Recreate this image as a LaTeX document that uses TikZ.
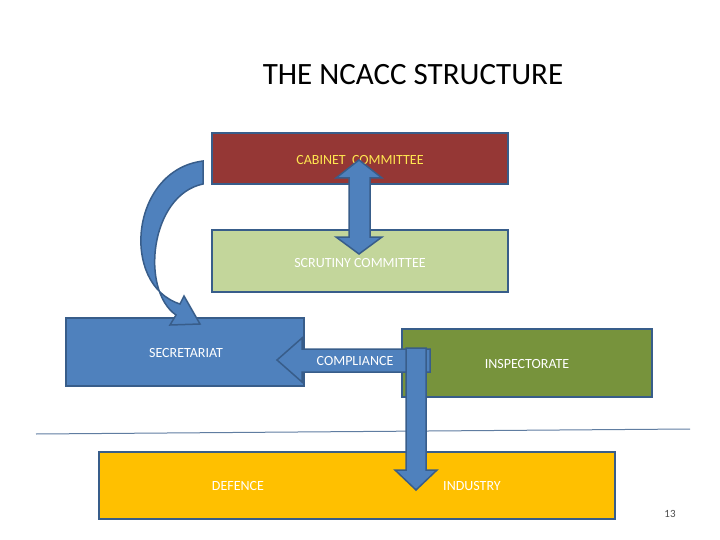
\documentclass[tikz,border=0pt]{standalone}
\usepackage{fontspec}
\setmainfont{Carlito}
\begin{document}
\begin{tikzpicture}[x=1pt,y=-1pt,
 box/.style={draw=bd,line width=2pt},
 arr/.style={fill=ab,draw=bd,line width=1.5pt,line join=miter},
 lbl/.style={font=\fontsize{14}{16}\selectfont,text=white}]
\definecolor{bd}{HTML}{385D8A}
\definecolor{ab}{HTML}{4F81BD}
\useasboundingbox (0,0) rectangle (720,540);
\node[font=\fontsize{31}{36}\selectfont] (title) at (413,75) {THE NCACC STRUCTURE};
\draw[box,fill={rgb,255:red,149;green,55;blue,53}] (212,133) rectangle (508,184);
\node[lbl,text={rgb,255:red,255;green,230;blue,80}] (cab) at (360,160) {CABINET\ \ COMMITTEE};
\draw[box,fill={rgb,255:red,195;green,214;blue,155}] (212,230) rectangle (508,292);
\node[lbl] (scr) at (360,263) {SCRUTINY COMMITTEE};
\draw[box,fill=ab] (66,318) rectangle (304,386);
\node[lbl] (sec) at (186,353) {SECRETARIAT};
\draw[box,fill={rgb,255:red,119;green,147;blue,60}] (402,329) rectangle (652,397);
\node[lbl] (ins) at (527,364) {INSPECTORATE};
\draw[line width=1pt,draw=bd!80] (36,434) -- (690,429);
\draw[box,fill={rgb,255:red,255;green,192;blue,0}] (99,452) rectangle (615,519);
\node[lbl] (def) at (238,486) {DEFENCE};
\node[lbl] (ind) at (472,486) {INDUSTRY};
% vertical double arrow
\draw[arr] (359,160) -- (382,178) -- (370,178) -- (370,237) -- (382,237) -- (359,254)
 -- (336,237) -- (349,237) -- (349,178) -- (336,178) -- cycle;
% compliance arrow
\draw[arr] (430,349) -- (302,349) -- (302,338) -- (277,360) -- (302,382) -- (302,372) -- (430,372) -- cycle;
\node[lbl] (comp) at (355,361) {COMPLIANCE};
% down arrow
\draw[arr] (406,348) -- (426,348) -- (426,470) -- (437,470) -- (416,490) -- (395,470) -- (406,470) -- cycle;
% curved arrow
\draw[arr] (203,161) .. controls (130,170) and (120,285) .. (180,304)
 -- (184,296) -- (200,324) -- (170,325) -- (176,315)
 .. controls (140,290) and (150,195) .. (203,184) -- cycle;
\node[font=\fontsize{11}{13}\selectfont,text=black!70] (pg) at (670,514) {13};
\end{tikzpicture}
\end{document}
